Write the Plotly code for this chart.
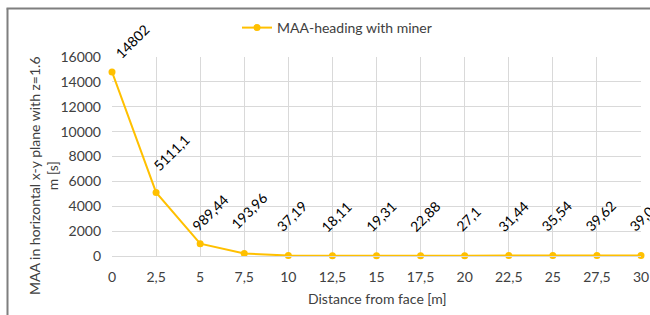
import plotly.graph_objects as go

# ---- data ----
distance = [0, 2.5, 5, 7.5, 10, 12.5, 15, 17.5, 20, 22.5, 25, 27.5, 30]
maa = [14802, 5111.1, 989.44, 193.96, 37.19, 18.11, 19.31, 22.88, 27.1, 31.44, 35.54, 39.62, 39.04]
x_tick_vals = [0, 2.5, 5, 7.5, 10, 12.5, 15, 17.5, 20, 22.5, 25, 27.5, 30]
x_tick_text = ["0", "2,5", "5", "7,5", "10", "12,5", "15", "17,5", "20", "22,5", "25", "27,5", "30"]
y_tick_vals = [0, 2000, 4000, 6000, 8000, 10000, 12000, 14000, 16000]
y_tick_text = ["0", "2000", "4000", "6000", "8000", "10000", "12000", "14000", "16000"]
series_name = "MAA-heading with miner"
x_title = "Distance from face [m]"
y_title = "MAA in horizontal x-y plane with z=1.6<br>m [s]"

# ---- style ----
COLOR = "#FFC000"
FONT = "Lato"
FS = 14
TXT = "#404040"
W, H = 650, 315
# plot area in window pixels: x 112..641, y 57..256
ML, MT = 112, 57
PW, PH = 529, 199
MR = W - ML - PW
MB = H - MT - PH

def px_x(p):
    return (p - ML) / PW

def px_y(p):
    return (MT + PH - p) / PH

# per-label pixel nudges (style only)
label_nudge = {0: (20, 7), 1: (15, 16), 2: (10, 7), 3: (5, 19)}
default_nudge = (4, 18)

def fmt(v):
    return ("%g" % v).replace(".", ",")

fig = go.Figure()
fig.add_trace(go.Scatter(
    x=distance, y=maa, mode="lines+markers", name=series_name,
    line=dict(color=COLOR, width=2),
    marker=dict(color=COLOR, size=7),
    cliponaxis=False,
))

annotations = []
for i, (xv, yv) in enumerate(zip(distance, maa)):
    dx, dy = label_nudge.get(i, default_nudge)
    annotations.append(dict(
        x=xv, y=yv, xref="x", yref="y", text=fmt(yv), showarrow=False,
        textangle=-45, xanchor="center", yanchor="bottom",
        xshift=dx, yshift=dy, font=dict(family=FONT, size=FS, color="#000000"),
    ))

annotations.append(dict(
    x=px_x(377), y=px_y(298), xref="paper", yref="paper", text=x_title,
    showarrow=False, xanchor="center", yanchor="middle",
    font=dict(family=FONT, size=FS, color=TXT),
))
annotations.append(dict(
    x=px_x(43), y=px_y(176), xref="paper", yref="paper", text=y_title,
    showarrow=False, xanchor="center", yanchor="middle", textangle=-90,
    font=dict(family=FONT, size=FS, color=TXT),
))

shapes = [
    dict(type="line", xref="paper", yref="paper",
         x0=px_x(7.5), x1=px_x(7.5), y0=px_y(8.5), y1=px_y(330),
         line=dict(color="#7F7F7F", width=2)),
    dict(type="line", xref="paper", yref="paper",
         x0=px_x(6.5), x1=px_x(660), y0=px_y(8.5), y1=px_y(8.5),
         line=dict(color="#7F7F7F", width=2)),
]

fig.update_layout(
    width=W, height=H,
    margin=dict(l=ML, r=MR, t=MT, b=MB, autoexpand=False),
    paper_bgcolor="white", plot_bgcolor="white",
    font=dict(family=FONT, size=FS, color=TXT),
    showlegend=True,
    legend=dict(orientation="h", x=px_x(337), y=px_y(28), xanchor="center", yanchor="middle",
                font=dict(family=FONT, size=FS, color=TXT), bgcolor="rgba(0,0,0,0)"),
    annotations=annotations,
    shapes=shapes,
)
fig.update_xaxes(
    range=[0, 30], tickvals=x_tick_vals, ticktext=x_tick_text,
    showgrid=True, gridcolor="#D9D9D9", gridwidth=1,
    zeroline=False, showline=True, linecolor="#D9D9D9", linewidth=1,
    ticks="", ticklabelstandoff=8, tickfont=dict(family=FONT, size=FS, color=TXT),
    automargin=False,
)
fig.update_yaxes(
    range=[0, 16000], tickvals=y_tick_vals, ticktext=y_tick_text,
    showgrid=True, gridcolor="#D9D9D9", gridwidth=1,
    zeroline=False, showline=False,
    ticks="", ticklabelstandoff=10, tickfont=dict(family=FONT, size=FS, color=TXT),
    automargin=False,
)

fig.write_html(
    "out.html",
    config={"displayModeBar": False},
    post_script=(
        "document.documentElement.style.margin='0';"
        "document.documentElement.style.overflow='hidden';"
        "document.body.style.margin='0';"
        "document.body.style.overflow='hidden';"
    ),
)
